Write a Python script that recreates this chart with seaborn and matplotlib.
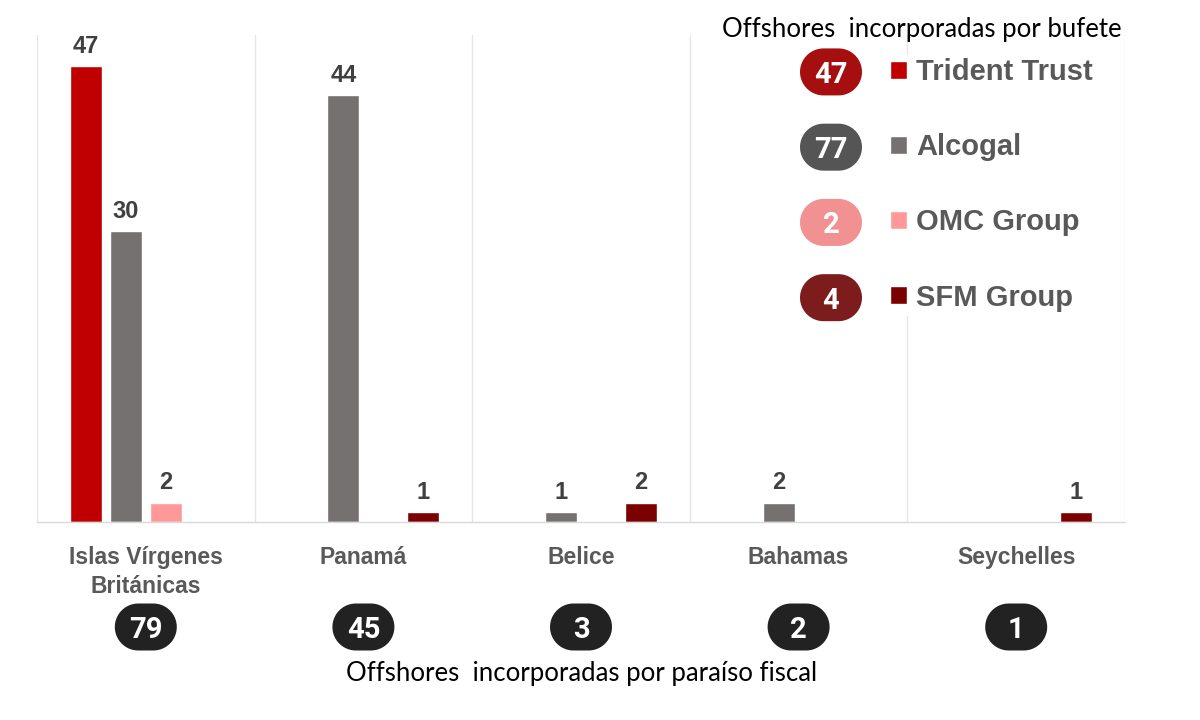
import matplotlib
matplotlib.use("Agg")
import numpy as np
import matplotlib.pyplot as plt
import seaborn as sns
import pandas as pd
from matplotlib.patches import Polygon

# ---- data ----
countries = ["Islas Vírgenes\nBritánicas", "Panamá", "Belice", "Bahamas", "Seychelles"]
firms = ["Trident Trust", "Alcogal", "OMC Group", "SFM Group"]
trident = [47, 0, 0, 0, 0]
alcogal = [30, 44, 1, 2, 0]
omc = [2, 0, 0, 0, 0]
sfm = [0, 1, 2, 0, 1]

bar_colors = {"Trident Trust": "#c00000", "Alcogal": "#767171",
              "OMC Group": "#ff9999", "SFM Group": "#7b0000"}
badge_colors = {"Trident Trust": "#a60f0f", "Alcogal": "#555555",
                "OMC Group": "#f29191", "SFM Group": "#7d1c1c"}

series = {"Trident Trust": trident, "Alcogal": alcogal, "OMC Group": omc, "SFM Group": sfm}
rows = []
for f in firms:
    for c, v in zip(countries, series[f]):
        rows.append({"country": c, "firm": f, "value": v})
df = pd.DataFrame(rows)
country_totals = [sum(series[f][i] for f in firms) for i in range(len(countries))]
firm_totals = [sum(series[f]) for f in firms]

# ---- figure ----
sns.set_theme(style="white")
plt.rcParams["font.family"] = ["Liberation Sans", "DejaVu Sans"]
sansb = ["Liberation Sans", "DejaVu Sans"]

fig = plt.figure(figsize=(12, 7.2), dpi=100)
ax = fig.add_axes([37 / 1200, 1 - 522 / 720, (1125 - 37) / 1200, (522 - 35) / 720])

sns.barplot(data=df, x="country", y="value", hue="firm", order=countries,
            hue_order=firms, palette=bar_colors, width=0.736, gap=0.2,
            saturation=1, ax=ax, legend=True)

for cont in ax.containers:
    labels = [f"{int(v)}" if v > 0 else "" for v in cont.datavalues]
    ax.bar_label(cont, labels=labels, padding=6, fontsize=17, fontweight="bold",
                 color="#404040", family=sansb)

ax.set_xlim(-0.5, len(countries) - 0.5)
ax.set_ylim(0, 50.2)
ax.set_yticks([])
ax.set_xlabel("")
ax.set_ylabel("")
for s in ["top", "left", "right"]:
    ax.spines[s].set_visible(False)
ax.spines["bottom"].set_color("#d9d9d9")
ax.spines["bottom"].set_linewidth(1)
for i in range(len(countries) + 1):
    ax.axvline(i - 0.5, color="#e6e6e6", lw=1, zorder=0)

ax.tick_params(axis="x", length=0, pad=17)
for t in ax.get_xticklabels():
    t.set_fontfamily(sansb)
    t.set_fontweight("bold")
    t.set_fontsize(16.5)
    t.set_color("#595959")
    t.set_linespacing(1.35)
    t.set_verticalalignment("top")

# legend
handles, labels = ax.get_legend_handles_labels()
leg = ax.legend(handles, labels, loc="upper left", bbox_to_anchor=(887 / 1200, 1 - 55 / 720),
                bbox_transform=fig.transFigure, frameon=True, facecolor="white",
                edgecolor="white", framealpha=1, fontsize=21, handlelength=0.58,
                handleheight=0.58, handletextpad=0.32, labelspacing=1.62,
                borderpad=0.1, borderaxespad=0)
for t in leg.get_texts():
    t.set_fontfamily(sansb)
    t.set_fontweight("bold")
    t.set_color("#595959")
leg.set_zorder(5)

fig.text(922 / 1200, 1 - 30 / 720, "Offshores  incorporadas por bufete", ha="center",
         va="center", fontsize=18.5, family=["Lato", "DejaVu Sans"], color="black")
fig.text(582 / 1200, 1 - 673 / 720, "Offshores  incorporadas por paraíso fiscal",
         ha="center", va="center", fontsize=18.5, family=["Lato", "DejaVu Sans"], color="black")

W, H = 0.62, 0.47
_th = np.linspace(-np.pi / 2, np.pi / 2, 40)

def badge(xc, yc, color, label):
    r = H / 2
    flat = W / 2 - r
    right = np.column_stack([xc + flat + r * np.cos(_th), yc + r * np.sin(_th)])
    left = np.column_stack([xc - flat - r * np.cos(_th), yc - r * np.sin(_th)])
    pts = np.vstack([right, left])
    p = Polygon(pts, closed=True, transform=fig.dpi_scale_trans, facecolor=color,
                edgecolor="none", zorder=10)
    fig.add_artist(p)
    fig.text(xc, yc, label, transform=fig.dpi_scale_trans, ha="center", va="center_baseline",
             fontsize=21, fontweight="bold", color="white",
             family=["Roboto", "DejaVu Sans"], zorder=11)

fig.canvas.draw()
renderer = fig.canvas.get_renderer()

for i, tot in enumerate(country_totals):
    xd = ax.transData.transform((i, 0))[0]
    badge(xd / 100, (720 - 627) / 100, "#222222", str(tot))

for t, f, tot in zip(leg.get_texts(), firms, firm_totals):
    bb = t.get_window_extent(renderer)
    yc = (bb.y0 + bb.y1) / 2
    badge(831 / 100, yc / 100, badge_colors[f], str(tot))

fig.savefig("out.png", dpi=100)
